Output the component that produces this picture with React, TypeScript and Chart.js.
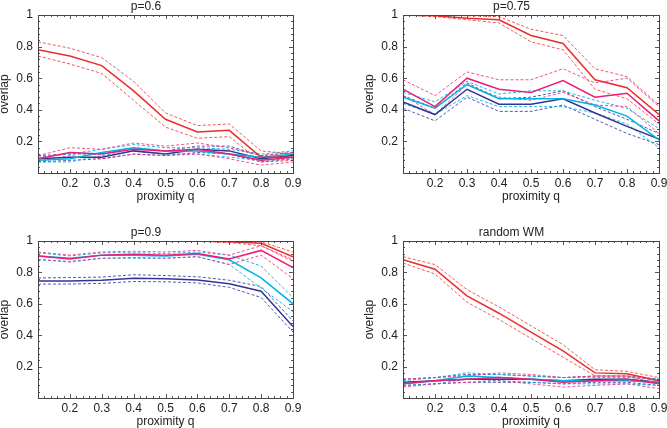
import React, { useEffect, useRef } from 'react';
import { Chart, registerables } from 'chart.js';
Chart.register(...registerables);

// ---------- data ----------
const proximity = [0.1, 0.2, 0.3, 0.4, 0.5, 0.6, 0.7, 0.8, 0.9];
const xTickValues = [0.2, 0.3, 0.4, 0.5, 0.6, 0.7, 0.8, 0.9];
const yTickValues = [0.2, 0.4, 0.6, 0.8, 1];
const panelTitles = ['p=0.6', 'p=0.75', 'p=0.9', 'random WM'];
const xAxisTitle = 'proximity q';
const yAxisTitle = 'overlap';

// p=0.6
const p60RedMean = [0.78, 0.74, 0.68, 0.52, 0.34, 0.26, 0.27, 0.10, 0.10];
const p60RedHigh = [0.83, 0.79, 0.73, 0.58, 0.38, 0.30, 0.31, 0.14, 0.12];
const p60RedLow = [0.74, 0.69, 0.63, 0.46, 0.29, 0.22, 0.23, 0.07, 0.08];
const p60MagentaMean = [0.09, 0.13, 0.12, 0.15, 0.14, 0.15, 0.12, 0.08, 0.10];
const p60MagentaHigh = [0.11, 0.16, 0.15, 0.19, 0.17, 0.19, 0.16, 0.11, 0.13];
const p60MagentaLow = [0.07, 0.11, 0.09, 0.12, 0.11, 0.12, 0.09, 0.05, 0.07];
const p60CyanMean = [0.08, 0.09, 0.13, 0.16, 0.14, 0.14, 0.12, 0.10, 0.12];
const p60CyanHigh = [0.10, 0.12, 0.15, 0.18, 0.16, 0.16, 0.15, 0.12, 0.14];
const p60CyanLow = [0.07, 0.07, 0.11, 0.14, 0.12, 0.12, 0.10, 0.08, 0.09];
const p60NavyMean = [0.09, 0.10, 0.10, 0.14, 0.12, 0.15, 0.14, 0.09, 0.11];
const p60NavyHigh = [0.11, 0.12, 0.12, 0.16, 0.14, 0.17, 0.17, 0.11, 0.13];
const p60NavyLow = [0.07, 0.08, 0.09, 0.12, 0.11, 0.13, 0.12, 0.07, 0.09];

// p=0.75
const p75RedMean = [1.0, 0.995, 0.98, 0.97, 0.87, 0.82, 0.59, 0.54, 0.37];
const p75RedHigh = [1.0, 1.0, 0.995, 0.99, 0.91, 0.87, 0.66, 0.61, 0.43];
const p75RedLow = [1.0, 0.99, 0.97, 0.95, 0.83, 0.78, 0.53, 0.47, 0.31];
const p75MagentaMean = [0.53, 0.42, 0.60, 0.53, 0.51, 0.585, 0.48, 0.505, 0.33];
const p75MagentaHigh = [0.59, 0.49, 0.64, 0.59, 0.59, 0.66, 0.57, 0.60, 0.42];
const p75MagentaLow = [0.49, 0.37, 0.56, 0.48, 0.46, 0.51, 0.43, 0.42, 0.25];
const p75CyanMean = [0.48, 0.41, 0.56, 0.47, 0.47, 0.47, 0.43, 0.36, 0.21];
const p75CyanHigh = [0.51, 0.45, 0.58, 0.50, 0.52, 0.52, 0.46, 0.41, 0.28];
const p75CyanLow = [0.44, 0.37, 0.49, 0.42, 0.42, 0.42, 0.38, 0.31, 0.16];
const p75NavyMean = [0.45, 0.37, 0.53, 0.435, 0.435, 0.47, 0.38, 0.295, 0.215];
const p75NavyHigh = [0.49, 0.41, 0.57, 0.47, 0.48, 0.52, 0.42, 0.34, 0.25];
const p75NavyLow = [0.41, 0.33, 0.48, 0.39, 0.39, 0.43, 0.34, 0.25, 0.18];

// p=0.9
const p90RedMean = [1.0, 1.0, 1.0, 1.0, 1.0, 1.0, 0.995, 0.985, 0.90];
const p90RedHigh = [1.0, 1.0, 1.0, 1.0, 1.0, 1.0, 1.0, 0.995, 0.93];
const p90RedLow = [1.0, 1.0, 1.0, 1.0, 1.0, 1.0, 0.99, 0.97, 0.87];
const p90MagentaMean = [0.905, 0.885, 0.91, 0.915, 0.91, 0.92, 0.885, 0.94, 0.83];
const p90MagentaHigh = [0.93, 0.91, 0.93, 0.935, 0.93, 0.94, 0.91, 0.97, 0.88];
const p90MagentaLow = [0.885, 0.865, 0.89, 0.895, 0.89, 0.90, 0.85, 0.91, 0.76];
const p90CyanMean = [0.905, 0.89, 0.91, 0.91, 0.905, 0.915, 0.88, 0.765, 0.60];
const p90CyanHigh = [0.925, 0.905, 0.925, 0.925, 0.92, 0.93, 0.91, 0.84, 0.64];
const p90CyanLow = [0.88, 0.87, 0.89, 0.89, 0.89, 0.90, 0.85, 0.70, 0.55];
const p90NavyMean = [0.745, 0.746, 0.75, 0.763, 0.76, 0.752, 0.727, 0.68, 0.455];
const p90NavyHigh = [0.765, 0.767, 0.77, 0.785, 0.78, 0.772, 0.75, 0.71, 0.49];
const p90NavyLow = [0.725, 0.726, 0.73, 0.742, 0.74, 0.733, 0.705, 0.64, 0.42];

// random WM
const rndRedMean = [0.88, 0.82, 0.65, 0.54, 0.42, 0.30, 0.16, 0.155, 0.11];
const rndRedHigh = [0.90, 0.85, 0.69, 0.58, 0.46, 0.34, 0.18, 0.17, 0.13];
const rndRedLow = [0.86, 0.79, 0.61, 0.50, 0.38, 0.26, 0.14, 0.14, 0.09];
const rndMagentaMean = [0.09, 0.11, 0.12, 0.13, 0.12, 0.10, 0.11, 0.12, 0.09];
const rndMagentaHigh = [0.12, 0.13, 0.14, 0.16, 0.15, 0.13, 0.14, 0.14, 0.11];
const rndMagentaLow = [0.07, 0.09, 0.10, 0.11, 0.09, 0.07, 0.08, 0.09, 0.06];
const rndCyanMean = [0.09, 0.11, 0.14, 0.13, 0.12, 0.11, 0.11, 0.11, 0.10];
const rndCyanHigh = [0.11, 0.13, 0.16, 0.15, 0.14, 0.13, 0.13, 0.13, 0.12];
const rndCyanLow = [0.08, 0.09, 0.12, 0.11, 0.10, 0.09, 0.09, 0.09, 0.08];
const rndNavyMean = [0.10, 0.11, 0.12, 0.12, 0.12, 0.11, 0.12, 0.12, 0.10];
const rndNavyHigh = [0.12, 0.13, 0.15, 0.15, 0.14, 0.13, 0.14, 0.14, 0.12];
const rndNavyLow = [0.08, 0.09, 0.10, 0.10, 0.10, 0.09, 0.10, 0.10, 0.08];

// ---------- styles ----------
const FONT = "'Liberation Sans', Arial, Helvetica, sans-serif";
const TEXT = '#222';
const COLORS = {
  red: { solid: 'rgb(238,44,44)', dash: 'rgba(238,60,60,0.85)' },
  magenta: { solid: 'rgb(236,30,118)', dash: 'rgba(236,50,130,0.85)' },
  cyan: { solid: 'rgb(0,180,230)', dash: 'rgba(0,180,230,0.9)' },
  navy: { solid: 'rgb(52,52,150)', dash: 'rgba(60,60,160,0.85)' },
};

type Trio = [number[], number[], number[]];
type PanelSeries = { red: Trio; magenta: Trio; cyan: Trio; navy: Trio };

const panelSeries: PanelSeries[] = [
  {
    red: [p60RedMean, p60RedHigh, p60RedLow],
    magenta: [p60MagentaMean, p60MagentaHigh, p60MagentaLow],
    cyan: [p60CyanMean, p60CyanHigh, p60CyanLow],
    navy: [p60NavyMean, p60NavyHigh, p60NavyLow],
  },
  {
    red: [p75RedMean, p75RedHigh, p75RedLow],
    magenta: [p75MagentaMean, p75MagentaHigh, p75MagentaLow],
    cyan: [p75CyanMean, p75CyanHigh, p75CyanLow],
    navy: [p75NavyMean, p75NavyHigh, p75NavyLow],
  },
  {
    red: [p90RedMean, p90RedHigh, p90RedLow],
    magenta: [p90MagentaMean, p90MagentaHigh, p90MagentaLow],
    cyan: [p90CyanMean, p90CyanHigh, p90CyanLow],
    navy: [p90NavyMean, p90NavyHigh, p90NavyLow],
  },
  {
    red: [rndRedMean, rndRedHigh, rndRedLow],
    magenta: [rndMagentaMean, rndMagentaHigh, rndMagentaLow],
    cyan: [rndCyanMean, rndCyanHigh, rndCyanLow],
    navy: [rndNavyMean, rndNavyHigh, rndNavyLow],
  },
];

// plot-area boxes (left, top, right, bottom) in page pixels
const panelBoxes = [
  { l: 38, t: 15, r: 293, b: 173 },
  { l: 403, t: 15, r: 659, b: 173 },
  { l: 38, t: 241, r: 293, b: 398 },
  { l: 403, t: 241, r: 659, b: 398 },
];

const Y_AXIS_W = 39;
const TITLE_H = 16;
const X_AXIS_H = 31;
const PAD_R = 8;

const framePlugin = {
  id: 'frame',
  afterDatasetsDraw(chart: any) {
    const { ctx, chartArea: a, scales } = chart;
    const xs = scales.x;
    const ys = scales.y;
    ctx.save();
    ctx.strokeStyle = '#555';
    ctx.lineWidth = 1;
    ctx.beginPath();
    for (let v = 0.1; v <= 0.9001; v += 0.02) {
      const px = Math.round(xs.getPixelForValue(v)) + 0.5;
      ctx.moveTo(px, a.top);
      ctx.lineTo(px, a.top + 2);
      ctx.moveTo(px, a.bottom);
      ctx.lineTo(px, a.bottom - 2);
    }
    for (let v = 0; v <= 1.0001; v += 0.04) {
      const py = Math.round(ys.getPixelForValue(v)) + 0.5;
      ctx.moveTo(a.left, py);
      ctx.lineTo(a.left + 2, py);
      ctx.moveTo(a.right, py);
      ctx.lineTo(a.right - 2, py);
    }
    xTickValues.forEach((v) => {
      const px = Math.round(xs.getPixelForValue(v)) + 0.5;
      ctx.moveTo(px, a.top);
      ctx.lineTo(px, a.top + 4);
      ctx.moveTo(px, a.bottom);
      ctx.lineTo(px, a.bottom - 4);
    });
    yTickValues.forEach((v) => {
      const py = Math.round(ys.getPixelForValue(v)) + 0.5;
      ctx.moveTo(a.left, py);
      ctx.lineTo(a.left + 4, py);
      ctx.moveTo(a.right, py);
      ctx.lineTo(a.right - 4, py);
    });
    ctx.stroke();
    ctx.strokeStyle = '#444';
    ctx.strokeRect(Math.round(a.left) + 0.5, Math.round(a.top) + 0.5, Math.round(a.right - a.left), Math.round(a.bottom - a.top));
    ctx.restore();
  },
};

function buildDatasets(s: PanelSeries) {
  const order: (keyof PanelSeries)[] = ['red', 'magenta', 'cyan', 'navy'];
  const sets: any[] = [];
  order.forEach((name, i) => {
    const [mean, hi, lo] = s[name];
    const c = COLORS[name];
    sets.push({
      label: name + ' mean',
      data: proximity.map((x, k) => ({ x, y: mean[k] })),
      borderColor: c.solid,
      borderWidth: 1.5,
      order: i,
    });
    [hi, lo].forEach((arr, j) => {
      sets.push({
        label: name + (j === 0 ? ' high' : ' low'),
        data: proximity.map((x, k) => ({ x, y: arr[k] })),
        borderColor: c.dash,
        borderWidth: 1,
        borderDash: [3, 2],
        order: 10 + i,
      });
    });
  });
  return sets;
}

function Panel({ idx }: { idx: number }) {
  const ref = useRef<HTMLCanvasElement>(null);
  const box = panelBoxes[idx];
  const left = box.l - Y_AXIS_W;
  const top = box.t - TITLE_H;
  const width = box.r - box.l + Y_AXIS_W + PAD_R;
  const height = box.b - box.t + TITLE_H + X_AXIS_H;

  useEffect(() => {
    if (!ref.current) return;
    const font = { family: FONT, size: 12, weight: 'normal' as const };
    const chart = new Chart(ref.current, {
      type: 'line',
      data: { datasets: buildDatasets(panelSeries[idx]) },
      options: {
        responsive: false,
        animation: false,
        devicePixelRatio: 1,
        layout: { padding: { left: 0, top: 0, right: PAD_R, bottom: 0 } },
        elements: { point: { radius: 0 }, line: { tension: 0 } },
        plugins: {
          legend: { display: false },
          tooltip: { enabled: false },
          title: {
            display: true,
            text: panelTitles[idx],
            padding: { top: 0, bottom: 1.6 },
            font,
            color: TEXT,
          },
        },
        scales: {
          x: {
            type: 'linear',
            min: 0.1,
            max: 0.9,
            grid: { display: false, drawTicks: false },
            border: { display: false },
            ticks: {
              padding: 3,
              autoSkip: false,
              maxRotation: 0,
              font,
              color: TEXT,
              callback: (v: any) => Number(v).toFixed(1),
            },
            title: { display: true, text: xAxisTitle, padding: { top: 0, bottom: 0 }, font, color: TEXT },
            afterBuildTicks: (s: any) => {
              s.ticks = xTickValues.map((value) => ({ value }));
            },
            afterFit: (s: any) => {
              s.height = X_AXIS_H;
              s.paddingLeft = 0;
              s.paddingRight = 0;
            },
          },
          y: {
            type: 'linear',
            min: 0,
            max: 1,
            grid: { display: false, drawTicks: false },
            border: { display: false },
            ticks: {
              padding: 5,
              autoSkip: false,
              font,
              color: TEXT,
              callback: (v: any) => (Number(v) === 1 ? '1' : Number(v).toFixed(1)),
            },
            title: { display: true, text: yAxisTitle, padding: { top: 0, bottom: 0 }, font: { ...font, lineHeight: 1 }, color: TEXT },
            afterBuildTicks: (s: any) => {
              s.ticks = yTickValues.map((value) => ({ value }));
            },
            afterFit: (s: any) => {
              s.width = Y_AXIS_W;
              s.paddingTop = 0;
              s.paddingBottom = 0;
            },
          },
        },
      } as any,
      plugins: [framePlugin],
    });
    return () => chart.destroy();
  }, [idx]);

  return (
    <canvas
      ref={ref}
      width={width}
      height={height}
      style={{ position: 'absolute', left, top, width, height, display: 'block' }}
    />
  );
}

export default function App() {
  return (
    <div
      style={{
        position: 'fixed',
        left: 0,
        top: 0,
        width: 667,
        height: 428,
        background: '#fff',
        overflow: 'hidden',
      }}
    >
      {panelBoxes.map((_, i) => (
        <Panel key={i} idx={i} />
      ))}
    </div>
  );
}
